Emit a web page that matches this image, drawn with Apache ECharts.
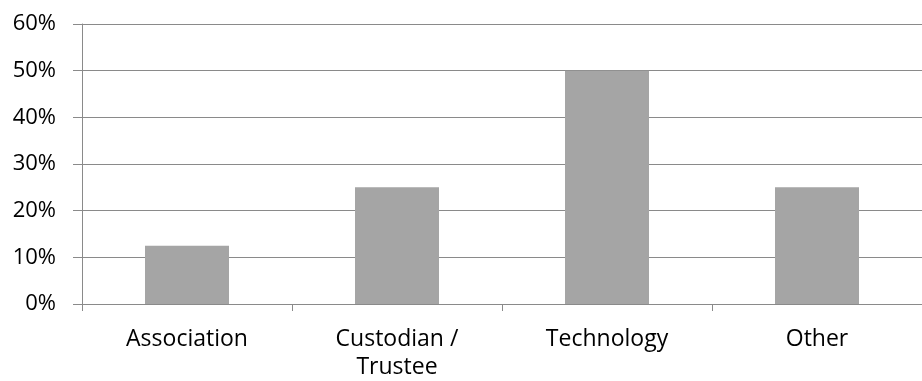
<!DOCTYPE html>
<html>
<head>
<meta charset="utf-8">
<script src="https://cdn.jsdelivr.net/npm/echarts@6/dist/echarts.min.js"></script>
<style>
html,body{margin:0;padding:0;background:#fff;}
#chart{width:922px;height:381px;}
</style>
</head>
<body>
<div id="chart"></div>
<script>
const categories = ["Association", "Custodian /\nTrustee", "Technology", "Other"];
const shares = [0.125, 0.25, 0.50, 0.25];
const yTicks = [0, 0.1, 0.2, 0.3, 0.4, 0.5, 0.6];

const chart = echarts.init(document.getElementById('chart'), null, {renderer: 'canvas'});
const gray = '#8a8a8a';
chart.setOption({
  animation: false,
  backgroundColor: '#ffffff',
  grid: {left: 82, right: -3, top: 24, bottom: 76, containLabel: false},
  xAxis: {
    type: 'category',
    data: categories,
    axisLine: {show: true, lineStyle: {color: gray, width: 1}},
    axisTick: {show: true, length: 7, interval: 0, alignWithLabel: false, lineStyle: {color: gray}},
    axisLabel: {
      interval: 0, margin: 21, color: '#000', fontFamily: 'Open Sans', fontSize: 23,
      lineHeight: 28, align: 'center'
    },
    splitLine: {show: false}
  },
  yAxis: {
    type: 'value',
    min: yTicks[0],
    max: yTicks[yTicks.length - 1],
    interval: 0.1,
    axisLine: {show: true, lineStyle: {color: gray, width: 1}},
    axisTick: {show: true, length: 9, inside: false, lineStyle: {color: gray}},
    axisLabel: {
      margin: 26, color: '#000', fontFamily: 'Open Sans', fontSize: 22,
      formatter: v => Math.round(v * 100) + '%'
    },
    splitLine: {show: true, lineStyle: {color: gray, width: 1}}
  },
  series: [{
    type: 'bar',
    data: shares,
    barWidth: '40%',
    itemStyle: {color: '#a5a5a5'}
  }]
});
</script>
</body>
</html>
